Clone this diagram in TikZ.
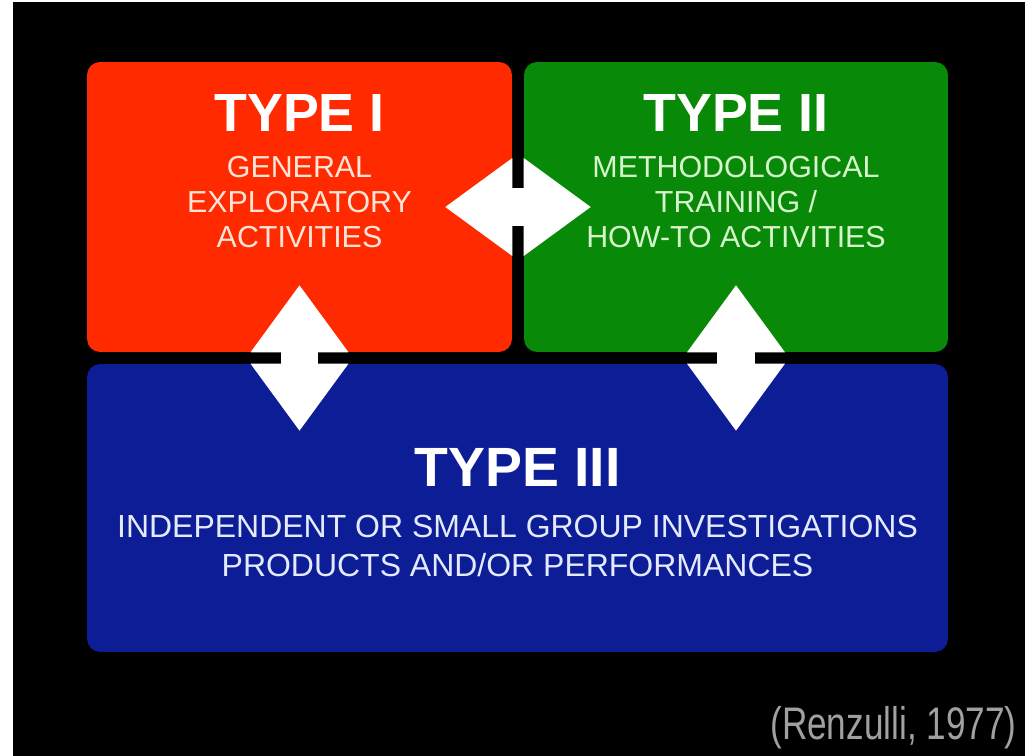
\documentclass[tikz,border=0pt]{standalone}
\usepackage{fontspec}
\setmainfont{Liberation Sans}
\usetikzlibrary{positioning, arrows.meta, calc}
\definecolor{typeone}{HTML}{FF2A00}
\definecolor{typetwo}{HTML}{088A08}
\definecolor{typethree}{HTML}{0C1D95}
\definecolor{onetext}{HTML}{FFE4D8}
\definecolor{twotext}{HTML}{D6F5CC}
\definecolor{threetext}{HTML}{E4EAFF}
\definecolor{citegray}{HTML}{A0A0A0}

\begin{document}
\begin{tikzpicture}[
    x=0.02cm, y=-0.02cm,
    box/.style={rectangle, rounded corners=0.26cm, inner sep=0pt},
    typetitle/.style={text=white, inner sep=0pt, anchor=base,
                      font=\bfseries\fontsize{30.6}{30.6}\selectfont},
    typetext/.style={inner sep=0pt, anchor=north, align=center,
                     font=\fontsize{17.3}{19.85}\selectfont},
    arrow/.style={white, line width=0.76cm,
                  {Triangle[length=1.34cm, width=1.96cm, line width=0pt]}-{Triangle[length=1.34cm, width=1.96cm, line width=0pt]}}
  ]
  \useasboundingbox (0,0) rectangle (1025,756);
  \fill[white] (0,0) rectangle (1025,756);
  \fill[black] (13,2) rectangle (1025,756);

  % the three activity types
  \node[box, fill=typeone, minimum width=8.5cm, minimum height=5.8cm] (one) at (299.5,207) {};
  \node[box, fill=typetwo, minimum width=8.48cm, minimum height=5.8cm] (two) at (736,207) {};
  \node[box, fill=typethree, minimum width=17.22cm, minimum height=5.76cm] (three) at (517.5,508) {};

  \node[typetitle] (onetitle) at (299.5,132) {TYPE I};
  \node[typetext, text=onetext] (onetxt) at (299.5,156) {GENERAL\\EXPLORATORY\\ACTIVITIES};

  \node[typetitle] (twotitle) at (736,132) {TYPE II};
  \node[typetext, text=twotext] (twotxt) at (736,156) {METHODOLOGICAL\\TRAINING /\\HOW-TO ACTIVITIES};

  \node[typetitle, font=\bfseries\fontsize{31.5}{31.5}\selectfont] (threetitle) at (517.5,487) {TYPE III};
  \node[typetext, text=threetext, font=\fontsize{18.2}{22.1}\selectfont] (threetxt) at (517.5,515)
    {INDEPENDENT OR SMALL GROUP INVESTIGATIONS\\PRODUCTS AND/OR PERFORMANCES};

  % double arrows between the types
  \draw[arrow] ($(one.east)+(-67,0)$) -- ($(two.west)+(67,0)$);
  \draw[arrow] ($(one.south)+(0,-67)$) -- ($(three.north -| one.south)+(0,67)$);
  \draw[arrow] ($(two.south)+(0,-67)$) -- ($(three.north -| two.south)+(0,67)$);

  \node[anchor=base east, inner sep=0pt, text=citegray, font=\fontsize{26}{26}\selectfont] (cite) at (1017,740)
    {\scalebox{0.77}[1]{(Renzulli, 1977)}};
\end{tikzpicture}
\end{document}
